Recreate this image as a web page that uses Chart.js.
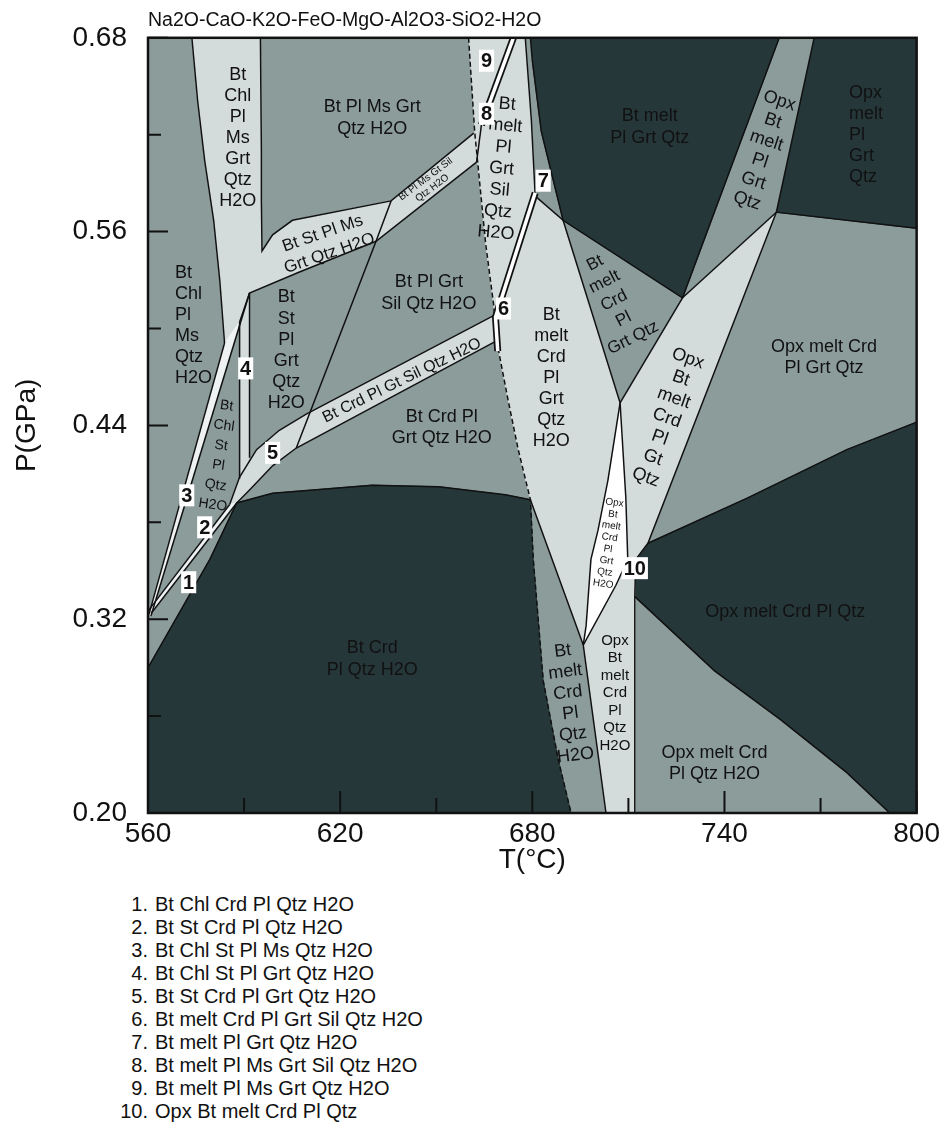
<!DOCTYPE html>
<html>
<head>
<meta charset="utf-8">
<script src="https://cdn.jsdelivr.net/npm/chart.js@4.4.0/dist/chart.umd.min.js"></script>
<style>
  body { margin: 0; background: #fff; font-family: "Liberation Sans", Arial, sans-serif; color: #111; }
  #wrap { position: relative; width: 944px; height: 1136px; overflow: hidden; }
  #chart { position: absolute; left: 0; top: 0; }
  #title { position: absolute; left: 148px; top: 8px; font-size: 19.5px; line-height: 22px; white-space: nowrap; }
  #notes { position: absolute; left: 98px; top: 893px; font-size: 20px; line-height: 23px; white-space: nowrap; }
  #notes .n { display: inline-block; width: 50px; text-align: right; margin-right: 7px; }
</style>
</head>
<body>
<div id="wrap">
  <canvas id="chart" width="944" height="880"></canvas>
  <div id="title">Na2O-CaO-K2O-FeO-MgO-Al2O3-SiO2-H2O</div>
  <div id="notes"></div>
</div>
<script>
// axis ticks
const xTicks = [560, 620, 680, 740, 800];
const xMinor = [590, 650, 710, 770];
const yTicks = [0.20, 0.32, 0.44, 0.56, 0.68];
const yMinor = [0.26, 0.38, 0.50, 0.62];

// field polygons, [T (°C), P (GPa)]
const darkLowT = [[560,0.290],[579.3,0.357],[587.7,0.392],[598.9,0.398],[630.0,0.403],[650.8,0.402],[671.6,0.397],[679.4,0.394],[680.3,0.357],[683.4,0.282],[688.1,0.233],[692.1,0.200],[560,0.200]];
const darkMeltTop = [[679.4,0.680],[757.1,0.680],[726.9,0.519],[689.6,0.567],[682.8,0.622],[680.0,0.666]];
const darkOpxTop = [[768.0,0.680],[800,0.680],[800,0.562],[756.2,0.572]];
const darkOpxLow = [[716.1,0.367],[747.1,0.395],[778.2,0.425],[800,0.442],[800,0.200],[791.6,0.200],[778.2,0.225],[757.4,0.258],[736.9,0.288],[712.0,0.334],[712.3,0.357]];
const lightChl = [[573.7,0.680],[575.5,0.641],[577.7,0.604],[580.5,0.567],[582.4,0.530],[583.9,0.491],[588.6,0.504],[591.7,0.522],[607.3,0.535],[631.2,0.554],[662.6,0.603],[661.7,0.621],[635.9,0.579],[605.1,0.567],[598.9,0.558],[595.6,0.548],[595.4,0.579],[595.4,0.610],[595.1,0.680]];
const strip4 = [[588.6,0.504],[591.7,0.522],[591.7,0.420],[588.6,0.407]];
const lightSil = [[585.5,0.391],[588.6,0.408],[593.9,0.425],[601.0,0.437],[609.4,0.447],[667.9,0.508],[669.4,0.493],[606.3,0.426],[598.9,0.415],[591.7,0.400],[587.7,0.392]];
const lightMelt = [[660.1,0.680],[677.8,0.680],[679.7,0.629],[680.9,0.582],[689.6,0.567],[707.4,0.454],[695.9,0.304],[679.4,0.394],[675.6,0.425],[672.5,0.455],[668.8,0.493],[667.9,0.515],[665.4,0.553],[662.0,0.622]];
const lightOpx = [[726.9,0.519],[756.2,0.572],[716.1,0.367],[712.3,0.357],[712.0,0.334],[712.0,0.200],[703.0,0.200],[695.9,0.304],[707.4,0.454]];
const whiteLens = [[707.4,0.454],[709.2,0.395],[709.8,0.357],[706.1,0.341],[695.9,0.304],[696.8,0.316],[698.3,0.357],[700.5,0.375],[703.6,0.406]];
const strip3 = [[560.3,0.323],[583.9,0.491],[588.6,0.504],[560.9,0.322]];
const strip2 = [[560,0.325],[585.5,0.391],[587.7,0.392],[561.0,0.3237]];

// boundary lines
const solidLines = [
  [[573.7,0.680],[575.5,0.641],[577.7,0.604],[580.5,0.567],[582.4,0.530],[583.9,0.491]],
  [[595.1,0.680],[595.4,0.610],[595.4,0.579],[595.6,0.548],[598.9,0.558],[605.1,0.567],[635.9,0.579],[661.7,0.621]],
  [[588.6,0.504],[591.7,0.522],[607.3,0.535],[631.2,0.554],[662.6,0.603]],
  [[560.3,0.323],[583.9,0.491]],
  [[560.9,0.322],[591.7,0.522]],
  [[588.6,0.504],[588.6,0.407]],
  [[591.7,0.522],[591.7,0.420]],
  [[585.5,0.391],[588.6,0.408],[593.9,0.425],[601.0,0.437],[609.4,0.447],[667.9,0.508]],
  [[587.7,0.392],[591.7,0.400],[598.9,0.415],[606.3,0.426],[669.4,0.493]],
  [[560,0.325],[585.5,0.391]],
  [[561.0,0.3237],[587.7,0.392]],
  [[635.9,0.579],[631.2,0.554],[606.3,0.426]],
  [[560,0.290],[579.3,0.357],[587.7,0.392],[598.9,0.398],[630.0,0.403],[650.8,0.402],[671.6,0.397],[679.4,0.394]],
  [[664.1,0.626],[662.6,0.603]],
  [[677.8,0.680],[679.7,0.629],[680.9,0.582],[689.6,0.567],[707.4,0.454]],
  [[679.4,0.680],[680.0,0.666],[682.8,0.622],[689.6,0.567],[726.9,0.519],[757.1,0.680]],
  [[726.9,0.519],[707.4,0.454]],
  [[726.9,0.519],[756.2,0.572]],
  [[768.0,0.680],[756.2,0.572],[800,0.562]],
  [[756.2,0.572],[716.1,0.367],[712.3,0.357],[712.0,0.334],[712.0,0.200]],
  [[716.1,0.367],[747.1,0.395],[778.2,0.425],[800,0.442]],
  [[712.0,0.334],[736.9,0.288],[757.4,0.258],[778.2,0.225],[791.6,0.200]],
  [[707.4,0.454],[709.2,0.395],[709.8,0.357],[706.1,0.341],[695.9,0.304]],
  [[707.4,0.454],[703.6,0.406],[700.5,0.375],[698.3,0.357],[696.8,0.316],[695.9,0.304]],
  [[679.4,0.394],[695.9,0.304],[703.0,0.200]]
];
const solidus = [[660.1,0.680],[662.0,0.622],[665.4,0.553],[667.9,0.515],[668.8,0.493],[672.5,0.455],[675.6,0.425],[679.4,0.394],[680.3,0.357],[683.4,0.282],[688.1,0.233],[692.1,0.200]];
const line8 = [[674.1,0.680],[664.1,0.626]];
const line6 = [[680.9,0.584],[668.5,0.507],[669.2,0.486]];

// field names and numbered fields
const fieldNames = [
  ['Bt','Chl','Pl','Ms','Grt','Qtz','H2O'],
  ['Bt Pl Ms Grt','Qtz H2O'],
  ['Bt melt','Pl Grt Qtz'],
  ['Opx','Bt','melt','Pl','Grt','Qtz'],
  ['Opx','melt','Pl','Grt','Qtz'],
  ['Bt','melt','Pl','Grt','Sil','Qtz','H2O'],
  ['Bt St Pl Ms','Grt Qtz H2O'],
  ['Bt Pl Ms Gt Sil','Qtz H2O'],
  ['Bt Pl Grt','Sil Qtz H2O'],
  ['Bt','Chl','Pl','Ms','Qtz','H2O'],
  ['Bt','St','Pl','Grt','Qtz','H2O'],
  ['Bt','Chl','St','Pl','Qtz','H2O'],
  ['Bt Crd Pl Gt Sil Qtz H2O'],
  ['Bt Crd Pl','Grt Qtz H2O'],
  ['Bt Crd','Pl Qtz H2O'],
  ['Bt','melt','Crd','Pl','Grt','Qtz','H2O'],
  ['Bt','melt','Crd','Pl','Grt Qtz'],
  ['Opx','Bt','melt','Crd','Pl','Gt','Qtz'],
  ['Opx melt Crd','Pl Grt Qtz'],
  ['Opx','Bt','melt','Crd','Pl','Grt','Qtz','H2O'],
  ['Opx melt Crd Pl Qtz'],
  ['Bt','melt','Crd','Pl','Qtz','H2O'],
  ['Opx','Bt','melt','Crd','Pl','Qtz','H2O'],
  ['Opx melt Crd','Pl Qtz H2O']
];
const fieldAt = [[588.0,0.618],[630.0,0.6305],[716.7,0.625],[752.1,0.610],[778.9,0.6197],[670.4,0.599],[615.6,0.5526],[647.7,0.5897],[647.7,0.522],[568.4,0.5016],[603.2,0.4864],[582.4,0.4214],[639.3,0.4678],[651.7,0.4388],[630.0,0.2953],[685.9,0.4691],[705.5,0.5173],[722.0,0.4446],[771.1,0.4821],[703.9,0.367],[759.0,0.3243],[691.5,0.268],[705.8,0.2742],[736.9,0.2309]];
const numAt = [[572.7,0.3429],[577.7,0.3769],[572.1,0.3967],[590.5,0.4753],[598.9,0.423],[671.0,0.5124],[683.4,0.5915],[665.7,0.633],[665.7,0.6658],[712.0,0.3516]];
const assemblages = [
  'Bt Chl Crd Pl Qtz H2O','Bt St Crd Pl Qtz H2O','Bt Chl St Pl Ms Qtz H2O','Bt Chl St Pl Grt Qtz H2O',
  'Bt St Crd Pl Grt Qtz H2O','Bt melt Crd Pl Grt Sil Qtz H2O','Bt melt Pl Grt Qtz H2O',
  'Bt melt Pl Ms Grt Sil Qtz H2O','Bt melt Pl Ms Grt Qtz H2O','Opx Bt melt Crd Pl Qtz'
];

// text look for each field name: [size, gap, rotation, align]
const fieldStyle = [
  [18,21,0],[18,22,0],[18,22,0],[18,21,18],[18,21,0,'left'],[18,21.5,5],[17,21,-19],[10,11,-37],
  [18,22,0],[18,21,0,'left'],[18,21.2,0],[14,20,8],[16,0,-26],[18,21,0],[18,22,0],[18,21,0],
  [17,21,-27],[18,21,19.5],[18,21,0],[10,11.7,8],[18,0,0],[18,21,-7],[15,17.5,0],[18,21,0]
];

const FONT = '"Liberation Sans", Arial, sans-serif';
const DARK = '#26373a', MID = '#8b9c9b', LIGHT = '#d4dcdb', WHITE = '#ffffff', PALE = '#eef2f2';
Chart.defaults.font.family = FONT;
Chart.defaults.color = '#111';

const pts = a => a.map(([x, y]) => ({x, y}));
const datasets = [];
function area(data, color) {
  datasets.push({data: pts(data), showLine: true, fill: 'shape', backgroundColor: color,
    borderColor: color, borderWidth: 1, pointRadius: 0, tension: 0});
}
function line(data, width, color, dash) {
  datasets.push({data: pts(data), showLine: true, fill: false, borderColor: color,
    borderWidth: width, borderDash: dash || [], pointRadius: 0, tension: 0});
}

[darkLowT, darkMeltTop, darkOpxTop, darkOpxLow].forEach(d => area(d, DARK));
[lightChl, strip4, lightSil, lightMelt, lightOpx].forEach(d => area(d, LIGHT));
area(whiteLens, WHITE);
area(strip3, PALE);
area(strip2, PALE);
solidLines.forEach(d => line(d, 1.5, '#111'));
line(solidus, 1.5, '#111', [5, 3]);
[line8, line6].forEach(d => { line(d, 7, '#111'); line(d, 3.5, WHITE); });
datasets.forEach((d, i) => { d.order = datasets.length - i; });

const bgPlugin = {
  id: 'bg',
  beforeDatasetsDraw(chart) {
    const {ctx, chartArea: a} = chart;
    ctx.save();
    ctx.fillStyle = MID;
    ctx.fillRect(a.left, a.top, a.right - a.left, a.bottom - a.top);
    ctx.restore();
  }
};

const textPlugin = {
  id: 'fieldText',
  afterDatasetsDraw(chart) {
    const {ctx, scales: {x, y}, chartArea: a} = chart;
    ctx.save();
    ctx.fillStyle = '#111';
    ctx.textBaseline = 'middle';
    fieldNames.forEach((lines, i) => {
      const [size, gap, rot, align] = fieldStyle[i];
      ctx.save();
      ctx.translate(x.getPixelForValue(fieldAt[i][0]), y.getPixelForValue(fieldAt[i][1]));
      ctx.rotate(rot * Math.PI / 180);
      ctx.font = size + 'px ' + FONT;
      ctx.textAlign = align || 'center';
      lines.forEach((s, k) => ctx.fillText(s, 0, (k - (lines.length - 1) / 2) * gap));
      ctx.restore();
    });
    // numbered fields
    ctx.font = 'bold 20px ' + FONT;
    ctx.textAlign = 'center';
    numAt.forEach(([t, p], i) => {
      const s = String(i + 1);
      const px = x.getPixelForValue(t), py = y.getPixelForValue(p);
      const w = ctx.measureText(s).width + 4;
      ctx.fillStyle = WHITE;
      ctx.fillRect(px - w / 2, py - 11, w, 22);
      ctx.fillStyle = '#111';
      ctx.fillText(s, px, py + 1);
    });
    // inward tick marks
    ctx.strokeStyle = '#111';
    ctx.lineWidth = 2;
    ctx.beginPath();
    xTicks.concat(xMinor).forEach(v => {
      const px = x.getPixelForValue(v), len = xTicks.includes(v) ? 22 : 15;
      ctx.moveTo(px, a.bottom); ctx.lineTo(px, a.bottom - len);
    });
    yTicks.concat(yMinor).forEach(v => {
      const py = y.getPixelForValue(v), len = yTicks.includes(v) ? 20 : 13;
      ctx.moveTo(a.left, py); ctx.lineTo(a.left + len, py);
    });
    ctx.stroke();
    ctx.lineWidth = 2.5;
    ctx.strokeRect(a.left, a.top, a.right - a.left, a.bottom - a.top);
    ctx.restore();
  }
};

new Chart(document.getElementById('chart'), {
  type: 'scatter',
  data: {datasets},
  options: {
    responsive: false,
    animation: false,
    events: [],
    layout: {padding: {top: 37, right: 24, left: 0, bottom: 0}},
    plugins: {legend: {display: false}, tooltip: {enabled: false}, title: {display: false}},
    scales: {
      x: {
        type: 'linear', min: 560, max: 800,
        afterBuildTicks: s => { s.ticks = xTicks.map(v => ({value: v})); },
        afterFit: s => { s.height = 67; },
        grid: {display: false, drawTicks: false},
        border: {display: false},
        ticks: {font: {size: 28}, color: '#111', padding: 4, maxRotation: 0, callback: v => String(v)},
        title: {display: true, text: 'T(°C)', font: {size: 28}, color: '#111', padding: {top: 0, bottom: 3}}
      },
      y: {
        type: 'linear', min: 0.20, max: 0.68,
        afterBuildTicks: s => { s.ticks = yTicks.map(v => ({value: v})); },
        afterFit: s => { s.width = 148; },
        grid: {display: false, drawTicks: false},
        border: {display: false},
        ticks: {font: {size: 28}, color: '#111', padding: 21, callback: v => Number(v).toFixed(2)},
        title: {display: true, text: 'P(GPa)', font: {size: 28}, color: '#111', padding: {top: 10, bottom: 0}}
      }
    }
  },
  plugins: [bgPlugin, textPlugin]
});

document.getElementById('notes').innerHTML = assemblages
  .map((s, i) => '<div><span class="n">' + (i + 1) + '.</span>' + s + '</div>').join('');
</script>
</body>
</html>
